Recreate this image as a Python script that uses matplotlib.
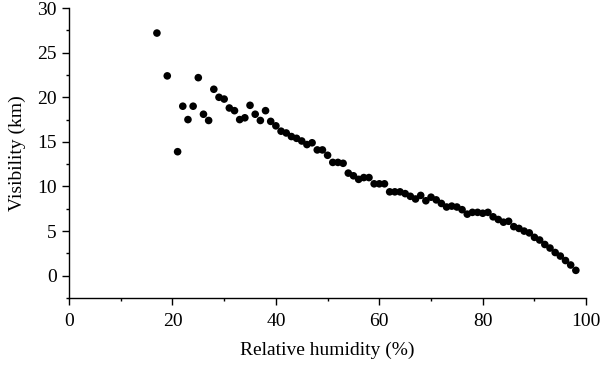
import matplotlib
matplotlib.use("Agg")
import matplotlib.pyplot as plt
from matplotlib.ticker import MultipleLocator

humidity = [17, 19, 21, 22, 23, 24, 25, 26, 27, 28, 29, 30, 31, 32, 33, 34, 35, 36, 37, 38,
            39, 40, 41, 42, 43, 44, 45, 46, 47, 48, 49, 50, 51, 52, 53, 54, 55, 56, 57, 58,
            59, 60, 61, 62, 63, 64, 65, 66, 67, 68, 69, 70, 71, 72, 73, 74, 75, 76, 77, 78,
            79, 80, 81, 82, 83, 84, 85, 86, 87, 88, 89, 90, 91, 92, 93, 94, 95, 96, 97, 98]
visibility = [27.2, 22.4, 13.9, 19.0, 17.5, 19.0, 22.2, 18.1, 17.4, 20.9, 20.0, 19.8, 18.8, 18.5, 17.5, 17.7, 19.1, 18.1, 17.4, 18.5,
              17.3, 16.8, 16.2, 16.0, 15.6, 15.4, 15.1, 14.7, 14.9, 14.1, 14.1, 13.5, 12.7, 12.7, 12.6, 11.5, 11.2, 10.8, 11.0, 11.0,
              10.3, 10.3, 10.3, 9.4, 9.4, 9.4, 9.2, 8.9, 8.6, 9.0, 8.4, 8.8, 8.5, 8.1, 7.7, 7.8, 7.7, 7.4, 6.9, 7.1,
              7.1, 7.0, 7.1, 6.6, 6.3, 6.0, 6.1, 5.5, 5.3, 5.0, 4.8, 4.3, 4.0, 3.5, 3.1, 2.6, 2.2, 1.7, 1.2, 0.6]

plt.rcParams['font.family'] = ['Liberation Serif', 'DejaVu Serif']

fig = plt.figure(figsize=(6.0, 3.67), dpi=100)
ax = fig.add_axes([0.115, 0.188, 0.862, 0.79])
ax.scatter(humidity, visibility, s=30, color='black', edgecolors='none', zorder=3)

ax.set_xlim(0, 100)
ax.set_ylim(-2.5, 30)
ax.xaxis.set_major_locator(MultipleLocator(20))
ax.xaxis.set_minor_locator(MultipleLocator(10))
ax.yaxis.set_major_locator(MultipleLocator(5))
ax.yaxis.set_minor_locator(MultipleLocator(2.5))
ax.set_yticks([0, 5, 10, 15, 20, 25, 30])
for s in ['top', 'right']:
    ax.spines[s].set_visible(False)
for s in ['left', 'bottom']:
    ax.spines[s].set_linewidth(1.0)
ax.tick_params(which='major', direction='out', length=5, width=1.0, labelsize=14)
ax.tick_params(axis='x', which='major', pad=6)
ax.tick_params(axis='y', which='major', pad=4)
ax.tick_params(which='minor', direction='out', length=2.5, width=1.0)
ax.set_xlabel('Relative humidity (%)', fontsize=14, labelpad=8)
ax.set_ylabel('Visibility (km)', fontsize=14, labelpad=8)

fig.savefig('out.png', dpi=100)
